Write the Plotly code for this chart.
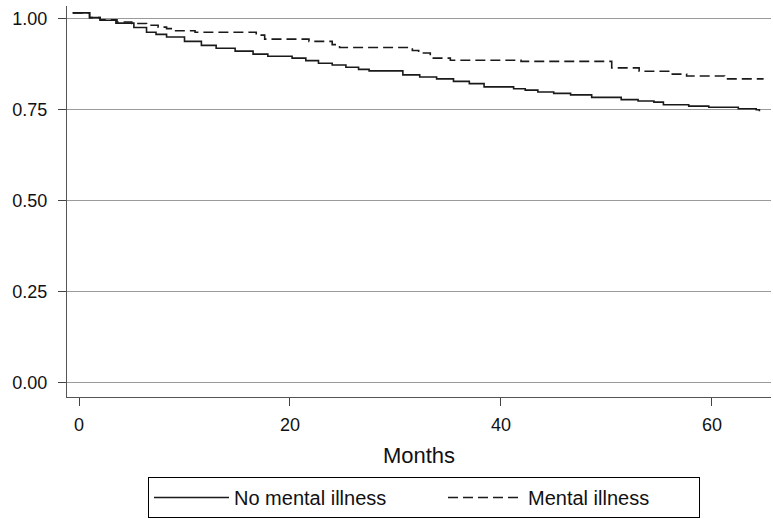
import plotly.graph_objects as go

# Kaplan-Meier style survival estimates
months_no_mi = [-0.6, 1.0, 2.0, 3.5, 5.2, 6.4, 7.3, 8.3, 10.0, 11.6, 13.0, 14.8, 16.5, 17.9,
                20.2, 21.5, 22.7, 24.0, 25.3, 26.5, 27.5, 28.8, 30.7, 32.3, 33.9, 35.5, 37.0,
                38.4, 41.2, 42.3, 43.5, 45.0, 46.6, 48.6, 51.4, 53.0, 54.5, 55.4, 57.8, 59.7,
                62.5, 64.2, 64.5]
surv_no_mi = [1.016, 1.003, 0.996, 0.988, 0.976, 0.963, 0.957, 0.950, 0.938, 0.927, 0.919,
              0.911, 0.903, 0.897, 0.892, 0.885, 0.878, 0.873, 0.867, 0.861, 0.857, 0.857,
              0.846, 0.840, 0.835, 0.828, 0.822, 0.813, 0.808, 0.804, 0.799, 0.795, 0.791,
              0.784, 0.778, 0.774, 0.771, 0.764, 0.760, 0.757, 0.753, 0.750, 0.746]

months_mi = [-0.6, 1.0, 2.0, 3.6, 5.0, 6.4, 7.5, 8.3, 9.0, 11.0, 16.8, 17.6, 21.8, 24.0,
             24.7, 31.6, 32.2, 33.3, 35.2, 41.9, 50.5, 53.1, 55.9, 57.6, 61.2, 64.9]
surv_mi = [1.016, 1.003, 0.997, 0.991, 0.987, 0.982, 0.977, 0.973, 0.967, 0.963, 0.955,
           0.944, 0.938, 0.929, 0.921, 0.913, 0.906, 0.892, 0.886, 0.883, 0.865, 0.856,
           0.848, 0.843, 0.835, 0.835]

x_ticks = [0, 20, 40, 60]
y_ticks = [0.0, 0.25, 0.5, 0.75, 1.0]
y_tick_labels = ["0.00", "0.25", "0.50", "0.75", "1.00"]

series_names = ["No mental illness", "Mental illness"]

FONT = "Liberation Sans, Arial, sans-serif"

fig = go.Figure()
fig.add_trace(go.Scatter(x=months_no_mi, y=surv_no_mi, mode="lines", name=series_names[0],
                         legendwidth=204,
                         line=dict(color="#1a1a1a", width=1.6, shape="hv")))
fig.add_trace(go.Scatter(x=months_mi, y=surv_mi, mode="lines", name=series_names[1],
                         legendwidth=166,
                         line=dict(color="#1a1a1a", width=1.6, shape="hv", dash="10px,5px")))

fig.update_layout(
    width=773, height=519,
    margin=dict(l=67, r=2, t=6, b=122, autoexpand=False),
    paper_bgcolor="white", plot_bgcolor="white",
    font=dict(family=FONT, size=18, color="#111"),
    showlegend=True,
    legend=dict(orientation="h", xref="container", yref="container",
                x=148 / 773, xanchor="left", y=1 - 477 / 519, yanchor="top",
                bordercolor="#000", borderwidth=1, bgcolor="white",
                font=dict(size=20), itemwidth=75, traceorder="normal"),
)
fig.update_xaxes(range=[-1.14, 65.6], tickmode="array", tickvals=x_ticks,
                 ticks="outside", ticklen=8, tickcolor="#444", tickwidth=1.3,
                 showline=True, linecolor="#555", linewidth=1.3, showgrid=False,
                 zeroline=False, ticklabelstandoff=3, automargin=False,
                 title=dict(text="Months", font=dict(size=22), standoff=13))
fig.update_yaxes(range=[-0.0385, 1.035], tickmode="array", tickvals=y_ticks,
                 ticktext=y_tick_labels, ticks="outside", ticklen=8, tickcolor="#444",
                 tickwidth=1.3, showline=True, linecolor="#555", linewidth=1.3,
                 showgrid=True, gridcolor="#9a9a9a", gridwidth=1, zeroline=False,
                 ticklabelstandoff=7, automargin=False)

fig.write_html("out.html", config={"displayModeBar": False},
               post_script="document.body.style.margin='0';")
